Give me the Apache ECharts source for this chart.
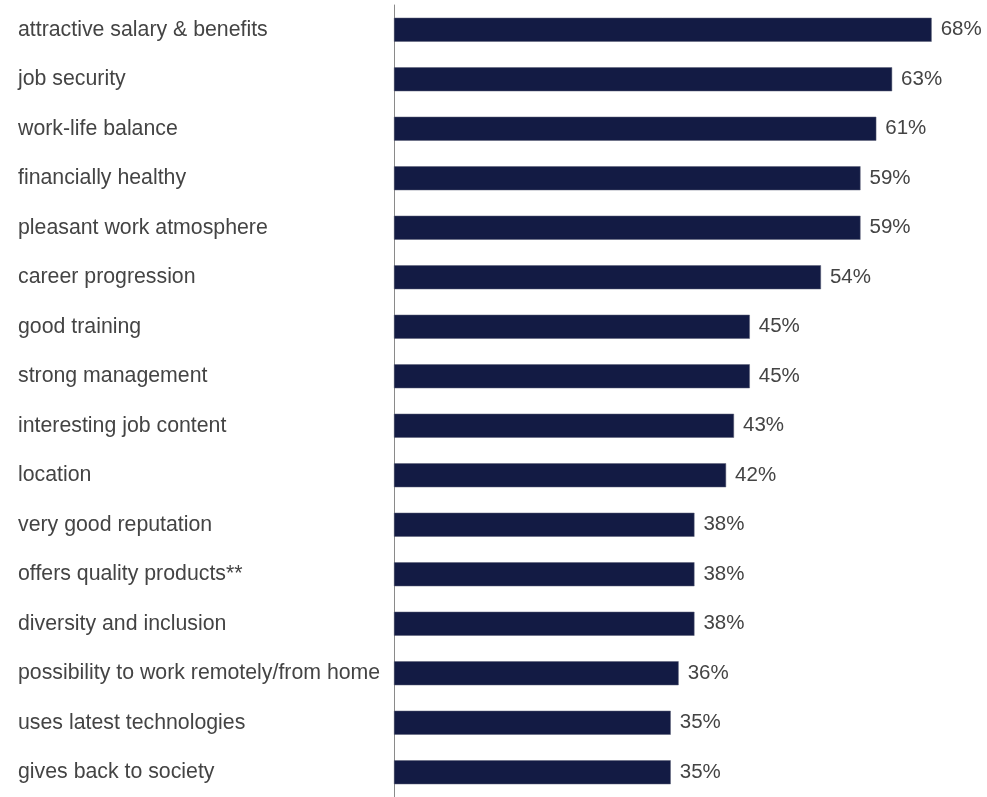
<!DOCTYPE html>
<html>
<head>
<meta charset="utf-8">
<script src="https://cdn.jsdelivr.net/npm/echarts@6/dist/echarts.min.js"></script>
<style>
  html, body { margin: 0; padding: 0; background: #fff; }
  #chart { width: 987px; height: 797px; }
</style>
</head>
<body>
<div id="chart"></div>
<script>
// Reasons people find an employer attractive (share of respondents, %)
const categories = [
  'attractive salary & benefits',
  'job security',
  'work-life balance',
  'financially healthy',
  'pleasant work atmosphere',
  'career progression',
  'good training',
  'strong management',
  'interesting job content',
  'location',
  'very good reputation',
  'offers quality products**',
  'diversity and inclusion',
  'possibility to work remotely/from home',
  'uses latest technologies',
  'gives back to society'
];
const shares = [68, 63, 61, 59, 59, 54, 45, 45, 43, 42, 38, 38, 38, 36, 35, 35];

const chart = echarts.init(document.getElementById('chart'), null, { renderer: 'canvas' });
chart.setOption({
  animation: false,
  grid: { left: 394, right: 0, top: 5, bottom: -4, containLabel: false },
  xAxis: {
    type: 'value',
    min: 0,
    max: 75,
    show: false
  },
  yAxis: {
    type: 'category',
    inverse: true,
    data: categories,
    axisLine: { show: true, lineStyle: { color: '#8a8a8a', width: 1 } },
    axisTick: { show: false },
    axisLabel: {
      align: 'left',
      margin: 376,
      color: '#444',
      fontSize: 21.3,
      padding: [4, 0, 0, 0],
      fontFamily: 'Liberation Sans, Arial, sans-serif'
    }
  },
  series: [{
    type: 'bar',
    data: shares,
    barWidth: 24,
    itemStyle: { color: '#131b44', borderColor: '#5a5f75', borderWidth: 0.5 },
    label: {
      show: true,
      position: 'right',
      distance: 9,
      formatter: '{c}%',
      color: '#444',
      fontSize: 20.5,
      padding: [4, 0, 0, 0],
      fontFamily: 'Liberation Sans, Arial, sans-serif'
    }
  }]
});
</script>
</body>
</html>
